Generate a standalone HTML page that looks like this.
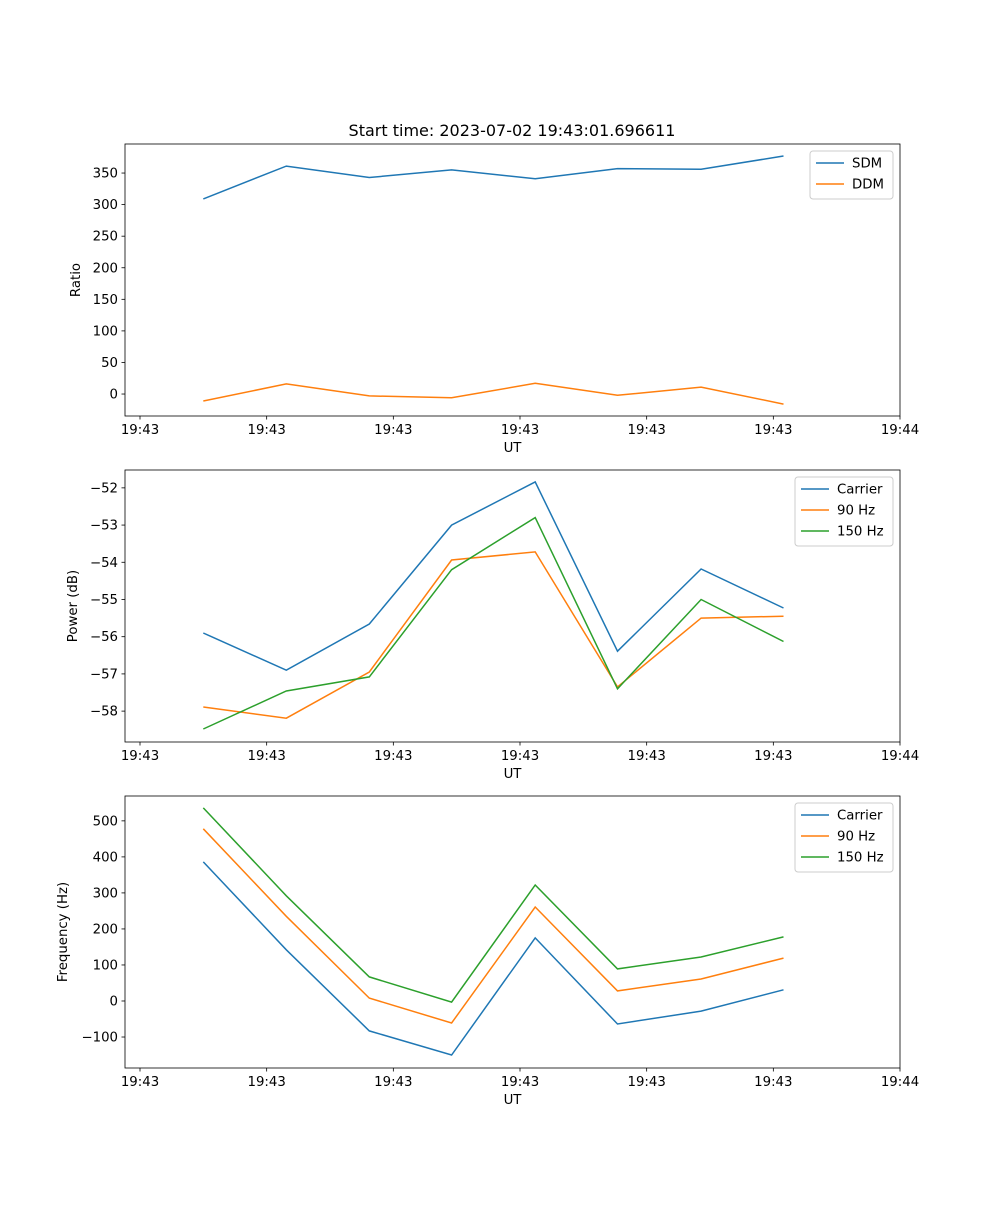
<!DOCTYPE html>
<html><head><meta charset="utf-8">
<style>
html,body{margin:0;padding:0;background:#fff;}
svg text{font-family:"DejaVu Sans","Liberation Sans",sans-serif;font-size:13.3px;fill:#000;}
</style></head>
<body>
<svg id="fig" width="1000" height="1200" viewBox="0 0 1000 1200" xmlns="http://www.w3.org/2000/svg">
<rect width="1000" height="1200" fill="#fff"/>
<text x="512" y="136" text-anchor="middle" style="font-size:16px">Start time: 2023-07-02 19:43:01.696611</text>
</svg>
<script>
const times = [0.5, 1.155, 1.81, 2.46, 3.12, 3.77, 4.43, 5.08];
const xTicks = [0,1,2,3,4,5,6];
const xTickLabels = ["19:43","19:43","19:43","19:43","19:43","19:43","19:44"];
const sdm = [309, 361, 343, 355, 341, 357, 356, 377];
const ddm = [-11, 16, -3, -6, 17, -2, 11, -16];
const carrierPow = [-55.9, -56.9, -55.66, -53.0, -51.84, -56.39, -54.18, -55.23];
const hz90Pow = [-57.89, -58.19, -56.95, -53.94, -53.72, -57.35, -55.5, -55.45];
const hz150Pow = [-58.48, -57.46, -57.08, -54.2, -52.8, -57.4, -55.0, -56.13];
const carrierFreq = [386, 142, -83, -150, 175, -64, -28, 31];
const hz90Freq = [478, 235, 8, -61, 261, 28, 61, 119];
const hz150Freq = [536, 292, 67, -3, 322, 89, 122, 178];
const ticks1 = [0,50,100,150,200,250,300,350];
const ticks2 = [-58,-57,-56,-55,-54,-53,-52];
const ticks3 = [-100,0,100,200,300,400,500];

const NS="http://www.w3.org/2000/svg";
const svg=document.getElementById('fig');
const C=['#1f77b4','#ff7f0e','#2ca02c'];
function mk(tag,attrs,parent){const e=document.createElementNS(NS,tag);for(const k in attrs)e.setAttribute(k,attrs[k]);(parent||svg).appendChild(e);return e;}
const L=125,R=900;
const xs=t=>140+t*(760/6);

function panel(name,top,bot,ymin,ymax,yTicks,fmt,ylabel,series,names,legend){
  const g=mk('g',{});
  
  
  const ys=v=>bot-(v-ymin)/(ymax-ymin)*(bot-top);
  // series
  series.forEach((s,i)=>{
    const p=mk('polyline',{points:s.map((v,j)=>xs(times[j]).toFixed(1)+','+ys(v).toFixed(1)).join(' '),fill:'none',stroke:C[i],'stroke-width':1.5},g);
    
    
  });
  const fr=mk('rect',{x:L,y:top,width:R-L,height:bot-top,fill:'none',stroke:'#000','stroke-width':0.8},g);
  
  
  xTicks.forEach((t,i)=>{
    const x=xs(t);
    mk('line',{x1:x,x2:x,y1:bot,y2:bot+3.5,stroke:'#000','stroke-width':0.8},g);
    const tx=mk('text',{x:x,y:bot+18,'text-anchor':'middle'},g);tx.textContent=xTickLabels[i];
    
    
  });
  yTicks.forEach(v=>{
    const y=ys(v);
    mk('line',{x1:L,x2:L-3.5,y1:y,y2:y,stroke:'#000','stroke-width':0.8},g);
    const tx=mk('text',{x:L-7,y:y+4.5,'text-anchor':'end'},g);tx.textContent=fmt(v);
    
    
  });
  const xl=mk('text',{x:(L+R)/2,y:bot+36,'text-anchor':'middle'},g);xl.textContent='UT';
  
  
  const yx=legend.yx;
  const yl=mk('text',{x:yx,y:(top+bot)/2,'text-anchor':'middle',transform:`rotate(-90 ${yx} ${(top+bot)/2})`},g);yl.textContent=ylabel;
  
  
  // legend
  const lg=mk('g',{},g);
  
  
  const h=names.length*21+6;
  mk('rect',{x:legend.x,y:top+7,width:R-7-legend.x,height:h,rx:3,fill:'#fff',stroke:'#ccc','stroke-width':1},lg);
  names.forEach((n,i)=>{
    const y=top+19+i*21;
    mk('line',{x1:legend.x+6,x2:legend.x+34,y1:y,y2:y,stroke:C[i],'stroke-width':1.5},lg);
    const t=mk('text',{x:legend.x+42,y:y+4.5},lg);t.textContent=n;
    
    
  });
}
const minus=v=>String(v).replace('-','\u2212');
panel('ratio-panel',144,416,-34.8,396,ticks1,minus,'Ratio',[sdm,ddm],['SDM','DDM'],{x:810,yx:80});
panel('power-panel',470,742,-58.83,-51.52,ticks2,minus,'Power (dB)',[carrierPow,hz90Pow,hz150Pow],['Carrier','90 Hz','150 Hz'],{x:795,yx:77});
panel('frequency-panel',796,1068,-186,569,ticks3,minus,'Frequency (Hz)',[carrierFreq,hz90Freq,hz150Freq],['Carrier','90 Hz','150 Hz'],{x:795,yx:67});
</script>
</body></html>
